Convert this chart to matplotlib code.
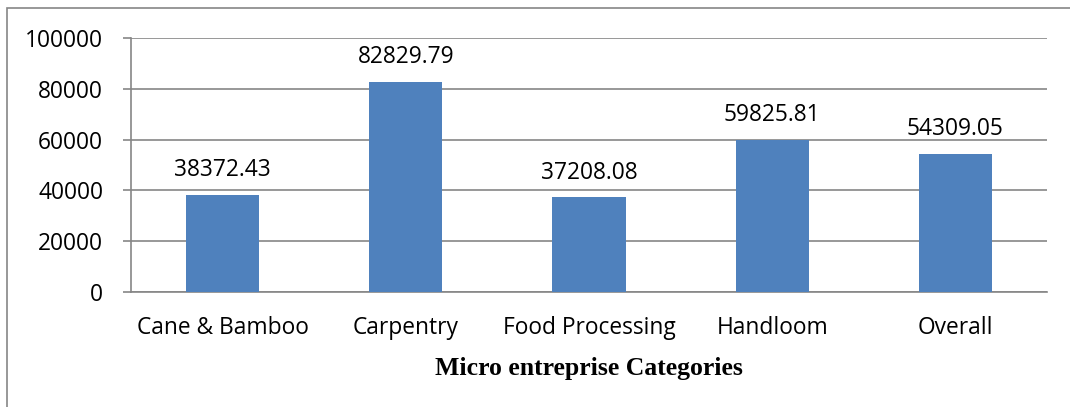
import matplotlib
matplotlib.use("Agg")
import matplotlib.pyplot as plt
from matplotlib.patches import Rectangle

categories = ["Cane & Bamboo", "Carpentry", "Food Processing", "Handloom", "Overall"]
values = [38372.43, 82829.79, 37208.08, 59825.81, 54309.05]
yticks = [0, 20000, 40000, 60000, 80000, 100000]

BAR = "#4F81BD"
GRID = "#868686"
FS = 16.4

fig = plt.figure(figsize=(10.7, 4.07), dpi=100)
ax = fig.add_axes([131 / 1070, 1 - 292 / 407, 916 / 1070, 254 / 407])

x = range(len(categories))
ax.bar(x, values, width=0.4, color=BAR, zorder=3)
for xi, v in zip(x, values):
    ax.annotate(f"{v:.2f}", (xi, v), xytext=(0, 13.5), textcoords="offset points",
                ha="center", va="baseline", fontsize=FS, family="Open Sans")

ax.set_xlim(-0.5, len(categories) - 0.5)
ax.set_ylim(0, 100000)
ax.set_yticks(yticks)
ax.set_yticklabels([str(t) for t in yticks], fontsize=FS, family="Open Sans")
ax.set_xticks(list(x))
ax.set_xticklabels(categories, fontsize=FS, family="Open Sans")
ax.tick_params(axis="x", length=0, pad=17.5)
ax.tick_params(axis="y", length=6, width=1.2, color=GRID, pad=14)
ax.grid(axis="y", color=GRID, linewidth=1.2, zorder=0)
for s in ["top", "right"]:
    ax.spines[s].set_visible(False)
for s in ["left", "bottom"]:
    ax.spines[s].set_color(GRID)
    ax.spines[s].set_linewidth(1.2)

ax.set_xlabel("Micro entreprise Categories", fontsize=18.5, fontweight="bold",
              family="Liberation Serif", labelpad=12)

# outer chart border (clipped at right and bottom)
fig.patches.append(Rectangle((7 / 1070, -0.1), 1.2, 1 - 8 / 407 + 0.1,
                             transform=fig.transFigure, fill=False,
                             edgecolor=GRID, linewidth=1.2))

fig.savefig("out.png", dpi=100)
